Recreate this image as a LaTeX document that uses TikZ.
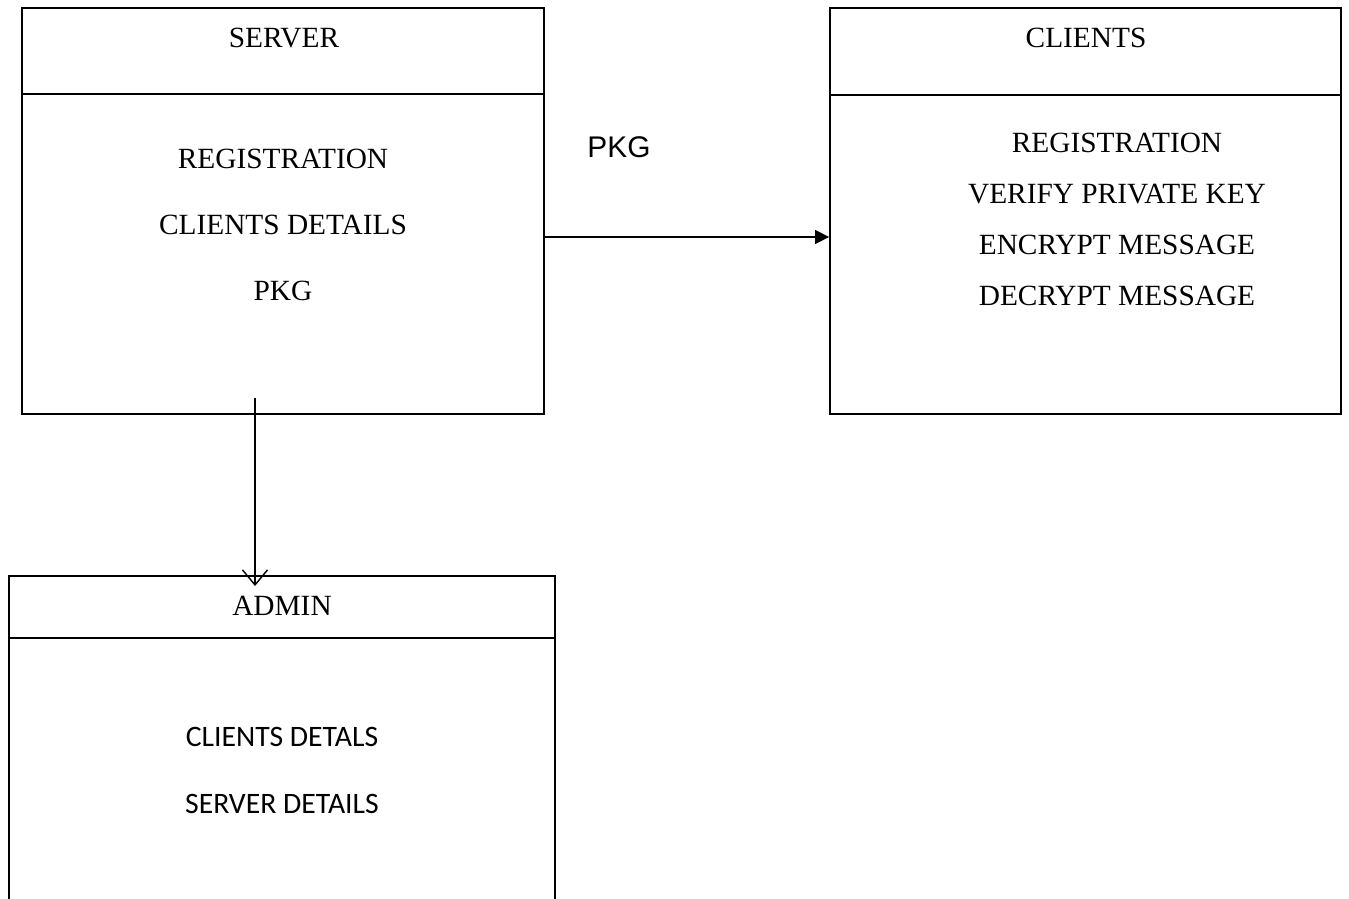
\documentclass[tikz,border=0pt]{standalone}
\usepackage{fontspec}
\setmainfont{Liberation Serif}
\newfontfamily\arialfont{Liberation Sans}
\newfontfamily\calibrifont{Carlito}
\usetikzlibrary{positioning,arrows.meta}

\tikzset{
  frame/.style={draw, line width=1.1pt, inner sep=0pt},
  rule/.style={line width=1.1pt},
  entry/.style={inner sep=0pt, font=\fontsize{16.7}{20}\selectfont},
  admentry/.style={inner sep=0pt, font=\calibrifont\fontsize{16.9}{20}\selectfont},
  flow/.style={line width=0.8pt}
}

\begin{document}
\begin{tikzpicture}[x=0.02cm, y=-0.02cm, node distance=1.32cm]
    \useasboundingbox (0,0) rectangle (1349,899);

    % server box
    \node (server) [frame, minimum width=10.44cm, minimum height=8.12cm] at (283,211) {};
    \draw [rule] (server.west |- 0,94) -- (server.east |- 0,94);
    \node (srvtitle) [entry] at (284,38) {SERVER};
    \node (srv1) [entry] at (283,159) {REGISTRATION};
    \node (srv2) [entry, below of=srv1] {CLIENTS DETAILS};
    \node (srv3) [entry, below of=srv2] {PKG};

    % clients box
    \node (clients) [frame, minimum width=10.22cm, minimum height=8.12cm] at (1085.5,211) {};
    \draw [rule] (clients.west |- 0,95) -- (clients.east |- 0,95);
    \node (clititle) [entry] at (1086,38) {CLIENTS};
    \node (cli1) [entry] at (1117,143) {REGISTRATION};
    \node (cli2) [entry, below of=cli1, node distance=1.02cm] {VERIFY PRIVATE KEY};
    \node (cli3) [entry, below of=cli2, node distance=1.02cm] {ENCRYPT MESSAGE};
    \node (cli4) [entry, below of=cli3, node distance=1.02cm] {DECRYPT MESSAGE};

    % admin box (open at the bottom)
    \draw [rule] (9,899) -- (9,576) -- (555,576) -- (555,899);
    \draw [rule] (9,638) -- (555,638);
    \node (admtitle) [entry] at (282,606) {ADMIN};
    \node (adm1) [admentry] at (282,737) {CLIENTS DETALS};
    \node (adm2) [admentry, below of=adm1, node distance=1.34cm] {SERVER DETAILS};

    % connectors
    \node (pkg) [inner sep=0pt, font=\arialfont\fontsize{17}{20}\selectfont] at (619,147) {PKG};
    \coordinate (srvtail) at (255,398);
    \coordinate (admtip) at (255,586);
    \draw [flow, -{Triangle[length=0.28cm, width=0.28cm]}] (server.east |- 0,237) -- (clients.west |- 0,237);
    \draw [flow, -{Straight Barb[length=0.3cm, width=0.5cm]}] (srvtail) -- (admtip);
\end{tikzpicture}
\end{document}
